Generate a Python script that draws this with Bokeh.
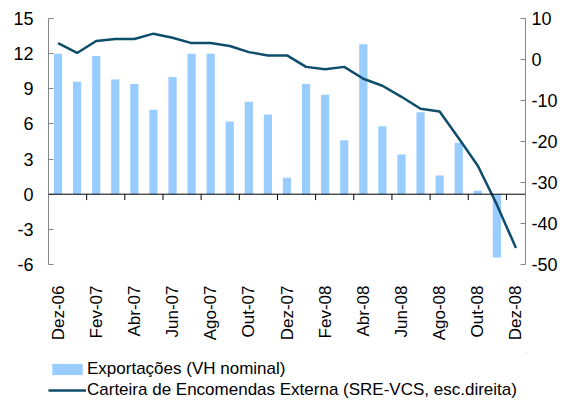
import math
from bokeh.plotting import figure
from bokeh.layouts import column
from bokeh.models import (Range1d, LinearAxis, FixedTicker, Span, Legend, LegendItem,
                          ColumnDataSource)
from bokeh.embed import file_html
from bokeh.resources import INLINE

months = ["Dez-06", "Jan-07", "Fev-07", "Mar-07", "Abr-07", "Mai-07", "Jun-07", "Jul-07",
          "Ago-07", "Set-07", "Out-07", "Nov-07", "Dez-07", "Jan-08", "Fev-08", "Mar-08",
          "Abr-08", "Mai-08", "Jun-08", "Jul-08", "Ago-08", "Set-08", "Out-08", "Nov-08",
          "Dez-08"]
exportacoes = [12.0, 9.6, 11.8, 9.8, 9.4, 7.2, 10.0, 12.0, 12.0, 6.2, 7.9, 6.8, 1.4,
               9.4, 8.5, 4.6, 12.8, 5.8, 3.4, 7.0, 1.6, 4.4, 0.3, -5.4, float("nan")]
carteira = [4.0, 1.6, 4.5, 5.0, 5.0, 6.3, 5.3, 4.0, 4.0, 3.3, 1.8, 1.0, 1.0,
            -1.8, -2.4, -1.8, -4.7, -6.4, -9.1, -12.0, -12.7, -19.2, -25.9, -35.4, -46.0]
left_ticks = [-6, -3, 0, 3, 6, 9, 12, 15]
right_ticks = [-50, -40, -30, -20, -10, 0, 10]
series_names = ["Exportações (VH nominal)",
                "Carteira de Encomendas Externa (SRE-VCS, esc.direita)"]

FONT = "Liberation Sans"
BAR = "#99CCFF"
LINE = "#0E4D6B"
GRAY = "#868686"

idx = list(range(len(months)))
src = ColumnDataSource(dict(x=idx, exp=exportacoes, cart=carteira))

p = figure(width=560, height=352, output_backend="svg", toolbar_location=None,
           x_range=Range1d(-0.5, len(months) - 0.5),
           y_range=Range1d(left_ticks[0], left_ticks[-1]),
           min_border_left=48, min_border_right=33, min_border_top=18,
           min_border_bottom=88)
p.extra_y_ranges = {"right": Range1d(right_ticks[0], right_ticks[-1])}
p.outline_line_color = None
p.xgrid.visible = False
p.ygrid.visible = False
p.background_fill_color = "white"
p.border_fill_color = "white"

p.vbar(x="x", top="exp", width=0.43, bottom=0, source=src,
       fill_color=BAR, line_color=None)
p.line(x="x", y="cart", source=src, y_range_name="right",
       line_color=LINE, line_width=2.5)

# zero line with category-pair ticks
p.add_layout(Span(location=0, dimension="width", line_color="black", line_width=1))
tx = sorted(set([k - 0.5 for k in idx[2::2]] + [len(months) - 0.5]))
p.segment(x0=tx, x1=tx, y0=[0] * len(tx), y1=[-0.5] * len(tx),
          line_color="black", line_width=1)

# left axis
ya = p.yaxis[0]
ya.ticker = FixedTicker(ticks=left_ticks)
ya.major_label_overrides = {t: str(t) for t in left_ticks}
ya.axis_line_color = GRAY
ya.major_tick_line_color = GRAY
ya.major_tick_in = 5
ya.major_tick_out = 0
ya.minor_tick_line_color = None
ya.major_label_standoff = 15
ya.major_label_text_font = FONT
ya.major_label_text_font_size = "18px"
ya.major_label_text_color = "black"

# right axis
ra = LinearAxis(y_range_name="right", ticker=FixedTicker(ticks=right_ticks))
ra.major_label_overrides = {t: str(t) for t in right_ticks}
ra.axis_line_color = GRAY
ra.major_tick_line_color = GRAY
ra.major_tick_in = 5
ra.major_tick_out = 0
ra.minor_tick_line_color = None
ra.major_label_standoff = 6
ra.major_label_text_font = FONT
ra.major_label_text_font_size = "18px"
ra.major_label_text_color = "black"
p.add_layout(ra, "right")

# bottom axis: labels only
xa = p.xaxis[0]
xa.ticker = FixedTicker(ticks=idx[::2])
xa.major_label_overrides = {i: months[i] for i in idx[::2]}
xa.major_label_orientation = math.pi / 2
xa.axis_line_color = None
xa.major_tick_line_color = None
xa.minor_tick_line_color = None
xa.major_label_standoff = 15
xa.major_label_text_font = FONT
xa.major_label_text_font_size = "17px"
xa.major_label_text_color = "black"

# legend strip (renderers sit outside its visible range; only the legend shows)
p2 = figure(width=560, height=48, output_backend="svg", toolbar_location=None,
            x_range=Range1d(-100, -99), y_range=Range1d(-100, -99),
            x_axis_location=None, y_axis_location=None,
            min_border=0)
p2.outline_line_color = None
p2.xgrid.visible = False
p2.ygrid.visible = False
lb = p2.vbar(x="x", top="exp", width=0.43, source=src, fill_color=BAR, line_color=None)
ll = p2.line(x="x", y="cart", source=src, line_color=LINE, line_width=2.5)
legend = Legend(items=[LegendItem(label=series_names[0], renderers=[lb]),
                       LegendItem(label=series_names[1], renderers=[ll])],
                location=(0, 0), orientation="vertical",
                padding=0, margin=0, spacing=1,
                glyph_width=38, glyph_height=14, label_height=20, label_standoff=1,
                label_text_font=FONT, label_text_font_size="17px",
                label_text_color="black",
                background_fill_alpha=0, border_line_color=None)
p2.add_layout(legend, "center")

open("out.html", "w").write(file_html(column(p, p2), INLINE))
